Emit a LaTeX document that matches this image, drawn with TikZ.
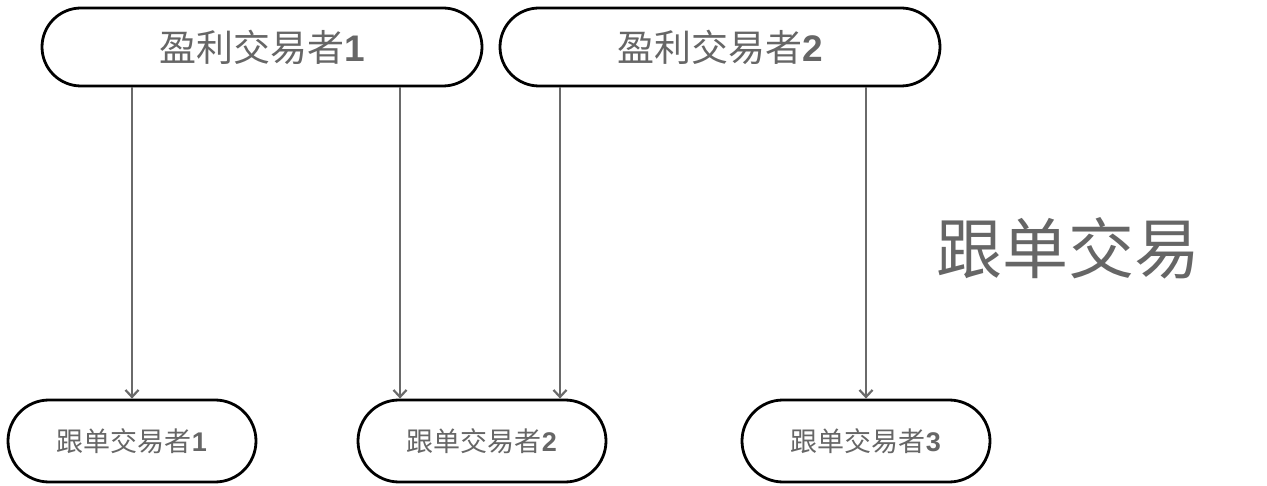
\documentclass[tikz,border=0pt]{standalone}
\usepackage{fontspec}
\setmainfont{Liberation Sans}
\newfontfamily\cjk{Noto Sans CJK SC}
\usetikzlibrary{shapes.misc,arrows.meta}
\definecolor{txtgray}{HTML}{666666}
\definecolor{arrgray}{HTML}{6A6A6A}
\begin{document}
\begin{tikzpicture}[x=1pt,y=-1pt,
  pill/.style={rounded rectangle,draw=black,line width=2.8pt,fill=white,inner sep=0pt,text=txtgray},
  bigpill/.style={pill,minimum width=440pt,minimum height=78pt,font=\fontsize{37}{40}\selectfont},
  smallpill/.style={pill,minimum width=248pt,minimum height=82pt,font=\fontsize{27}{30}\selectfont},
  follow/.style={draw=arrgray,line width=2.4pt,-{Straight Barb[length=7pt,width=13pt,line width=2.2pt]}}]
\useasboundingbox (0,0) rectangle (1267,486);

\node[bigpill] (p1) at (262,47) {{\cjk 盈利交易者}{\bfseries 1}};
\node[bigpill] (p2) at (720,47) {{\cjk 盈利交易者}{\bfseries 2}};

\node[smallpill] (f1) at (132,441) {{\cjk 跟单交易者}{\bfseries 1}};
\node[smallpill] (f2) at (482,441) {{\cjk 跟单交易者}{\bfseries 2}};
\node[smallpill] (f3) at (866,441) {{\cjk 跟单交易者}{\bfseries 3}};

\node[text=txtgray,font=\fontsize{66}{70}\selectfont\cjk] (title) at (1068,248) {跟单交易};

\draw[follow] (p1.south -| f1.north) -- (f1.north);
\draw[follow] ([xshift=-82pt]f2.north |- p1.south) -- ([xshift=-82pt]f2.north);
\draw[follow] ([xshift=78pt]f2.north |- p2.south) -- ([xshift=78pt]f2.north);
\draw[follow] (p2.south -| f3.north) -- (f3.north);

\end{tikzpicture}
\end{document}
